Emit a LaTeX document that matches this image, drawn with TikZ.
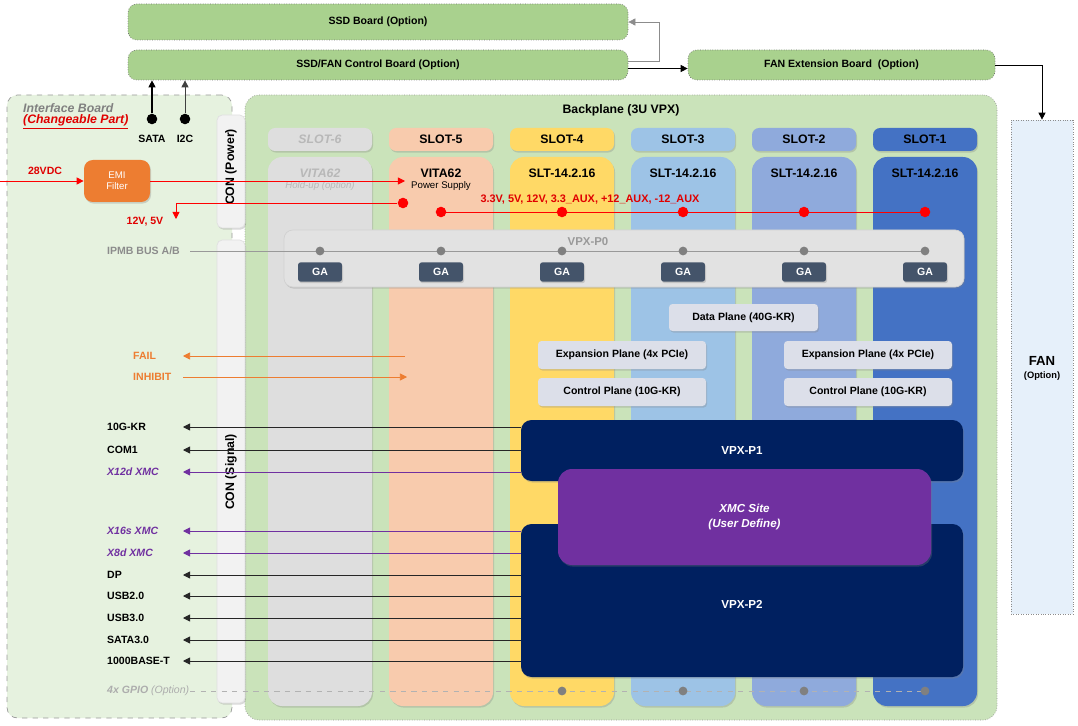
\documentclass[tikz,border=0pt]{standalone}
\usepackage{fontspec}
\setmainfont{Liberation Sans}
\usetikzlibrary{arrows.meta,fit,shadows,positioning}

\definecolor{brdgreen}{HTML}{A9D18E}
\definecolor{bpgreen}{HTML}{CAE3BA}
\definecolor{ifgreen}{HTML}{E6F2DF}
\definecolor{congray}{HTML}{F2F2F2}
\definecolor{fanblue}{HTML}{E6F0FA}
\definecolor{slotsix}{HTML}{DEDEDE}
\definecolor{slotfive}{HTML}{F8CBAD}
\definecolor{slotfour}{HTML}{FFD966}
\definecolor{slotthree}{HTML}{9DC3E6}
\definecolor{slottwo}{HTML}{8FAADC}
\definecolor{slotone}{HTML}{4472C4}
\definecolor{navy}{HTML}{002060}
\definecolor{xmcpurple}{HTML}{7030A0}
\definecolor{planegray}{HTML}{DCDFE9}
\definecolor{pzgray}{HTML}{E2E2E2}
\definecolor{gablue}{HTML}{44546A}
\definecolor{emiorange}{HTML}{ED7D31}
\definecolor{pwrred}{HTML}{E00000}

\tikzset{
  txt/.style={font=\fontsize{6}{7}\selectfont\bfseries},
  big/.style={font=\fontsize{7}{8}\selectfont\bfseries},
  shd/.style={drop shadow={shadow xshift=0.6pt,shadow yshift=-0.9pt,opacity=0.3}},
  board/.style={fill=brdgreen, draw=black!55, densely dotted, rounded corners=5pt, inner sep=0pt},
  hdr/.style={rounded corners=4pt, inner sep=0pt, shd},
  hdrtxt/.style={big},
  hdrsix/.style={font=\fontsize{7}{8}\selectfont\bfseries\itshape, text=black!28},
  slotbody/.style={rounded corners=8pt, inner sep=0pt, shd},
  plane/.style={fill=planegray, rounded corners=2pt, inner sep=0pt, shd},
  navybox/.style={fill=navy, rounded corners=6pt, inner sep=0pt, shd},
  navytxt/.style={font=\fontsize{6.6}{8}\selectfont\bfseries, text=white},
  ga/.style={txt, text=white, fill=gablue, rounded corners=1.5pt, minimum width=25pt, minimum height=11pt, inner sep=0pt, shd},
  rdot/.style={circle, fill=red, inner sep=0pt, minimum size=6pt},
  gdot/.style={circle, fill=black!50, inner sep=0pt, minimum size=5pt},
  bdot/.style={circle, fill=black, inner sep=0pt, minimum size=6pt},
  arr/.style={-{Triangle[length=4pt,width=4pt]}},
  pwr/.style={arr, red, line width=0.5pt},
  warn/.style={arr, emiorange, line width=0.4pt},
  sigk/.style={txt},
  sigx/.style={font=\fontsize{6}{7}\selectfont\bfseries\itshape, text=xmcpurple},
  lnk/.style={arr, black!85, line width=0.5pt},
  lnx/.style={arr, xmcpurple, line width=0.5pt},
}

\begin{document}
\begin{tikzpicture}[x=0.02cm, y=-0.02cm]
\useasboundingbox (0,0) rectangle (1078,726);

% option boards
\node[board, fit={(128,4) (628,40)}, label={[txt]center:SSD Board (Option)}] (ssd) {};
\node[board, fit={(128,50) (628,80)}, label={[txt]center:SSD/FAN Control Board (Option)}] (ctrl) {};
\node[board, fit={(688,50) (995,80)}, label={[txt]center:FAN Extension Board\ \ (Option)}] (fanext) {};
\node[fill=fanblue, draw=black!45, densely dotted, inner sep=0pt, fit={(1011,120) (1073,614)}] (fan) {};
\node[font=\fontsize{7.5}{8}\selectfont\bfseries] (fantxt) at (1042,361) {FAN};
\node[font=\fontsize{5.3}{6}\selectfont\bfseries, below=-3.5pt of fantxt] (fanopt) {(Option)};

\draw[black!45, arr] ([yshift=2pt]ctrl.east) -- ++(31,0) |- (ssd.east);
\draw[black, arr, line width=0.5pt] ([yshift=-2pt]ctrl.east) -- ([yshift=-2pt]fanext.west);
\draw[black, arr, line width=0.5pt] (fanext.east) -| (fan.north);

% interface board
\node[fill=ifgreen, draw=black!40, dashed, rounded corners=6pt, inner sep=0pt, fit={(7,95) (232,718)}] (iface) {};
\node[big, text=black!50, anchor=west] (ifname) at (17,108) {\itshape Interface Board};
\node[big, text=pwrred, anchor=west] (ifpart) at (17,122) {\itshape\underline{(Changeable Part)}};

% backplane
\node[fill=bpgreen, draw=black!40, densely dotted, rounded corners=8pt, inner sep=0pt, fit={(245,95) (997,720)}] (bp) {};
\node[big] (bptitle) at (621,110) {Backplane (3U VPX)};

\node[fill=congray, draw=black!12, rounded corners=3pt, inner sep=0pt, shd, fit={(217,115) (245,228)}] (conpwr) {};
\node[big, rotate=90] (conpwrtxt) at (231,167) {CON (Power)};
\node[fill=congray, draw=black!12, rounded corners=3pt, inner sep=0pt, shd, fit={(217,240) (245,703)}] (consig) {};
\node[big, rotate=90] (consigtxt) at (231,472) {CON (Signal)};

% slots
\foreach \n/\x/\col/\st in {6/268/slotsix/hdrsix, 5/389/slotfive/hdrtxt, 4/510/slotfour/hdrtxt,
                            3/631/slotthree/hdrtxt, 2/752/slottwo/hdrtxt, 1/873/slotone/hdrtxt}{
  \node[hdr, fill=\col, fit={(\x,128) (\x+104,151)}, label={[\st]center:SLOT-\n}] (hdr\n) {};
  \node[slotbody, fill=\col, fit={(\x,157) (\x+104,706)}] (slot\n) {};
}
\node[font=\fontsize{7}{8}\selectfont\bfseries\itshape, text=black!28] (vita6) at (320,173) {VITA62};
\node[font=\fontsize{5.5}{6}\selectfont\itshape, text=black!28] (hold6) at (320,186) {Hold-up (option)};
\node[big] (vita5) at (441,173) {VITA62};
\node[font=\fontsize{5.5}{6}\selectfont] (psu5) at (441,186) {Power Supply};
\foreach \n/\x in {4/562, 3/683, 2/804, 1/925}
  \node[big] (slt\n) at (\x,173) {SLT-14.2.16};

% power path
\node[fill=emiorange, rounded corners=5pt, inner sep=0pt, shd, fit={(84,160) (150,202)},
      label={[text=white, align=center, font=\fontsize{5.5}{6.5}\selectfont]center:EMI\\Filter}] (emi) {};
\coordinate (vdcin) at (0,181);
\coordinate (vitain) at (405,181);
\draw[pwr] (vdcin) -- (emi.west);
\node[txt, text=pwrred] (vdc) at (45,171) {28VDC};
\draw[pwr] (emi.east) -- (vitain);

\node[rdot] (pwout) at (403,203) {};
\coordinate (pwdown) at (176,219);
\draw[pwr] (pwout) -| (pwdown);
\node[txt, text=pwrred] (lowv) at (145,222) {12V, 5V};

\foreach \n/\x in {5/441, 4/562, 3/683, 2/804, 1/925}
  \coordinate (rail\n) at (\x,212);
\draw[red, line width=0.5pt] (rail5) -- (rail1);
\foreach \n in {5,4,3,2,1}
  \node[rdot] (rdot\n) at (rail\n) {};
\node[font=\fontsize{6.2}{7}\selectfont\bfseries, text=pwrred] (railtxt) at (590,200)
  {3.3V, 5V, 12V, 3.3\_AUX, +12\_AUX, -12\_AUX};

% VPX-P0
\node[fill=pzgray, draw=black!18, rounded corners=5pt, inner sep=0pt, shd, fit={(284,230) (964,287)}] (p0) {};
\node[font=\fontsize{6.5}{7}\selectfont\bfseries, text=black!40] (p0txt) at (588,242) {VPX-P0};
\node[txt, text=black!45, anchor=west] (ipmb) at (101,251) {IPMB BUS A/B};
\coordinate (ipmbend) at (190,251);
\foreach \n/\x in {6/320, 5/441, 4/562, 3/683, 2/804, 1/925}
  \coordinate (bus\n) at (\x,251);
\draw[black!40, line width=0.5pt] (ipmbend) -- (bus1);
\foreach \n/\x in {6/320, 5/441, 4/562, 3/683, 2/804, 1/925}{
  \node[gdot] (bdot\n) at (bus\n) {};
  \node[ga] (ga\n) at (\x,272) {GA};
}

% planes
\node[plane, fit={(669,304) (818,331)}, label={[txt]center:Data Plane (40G-KR)}] (data) {};
\node[plane, fit={(538,341) (706,369)}, label={[txt]center:Expansion Plane (4x PCIe)}] (expl) {};
\node[plane, fit={(784,341) (952,369)}, label={[txt]center:Expansion Plane (4x PCIe)}] (expr) {};
\node[plane, fit={(538,378) (706,406)}, label={[txt]center:Control Plane (10G-KR)}] (ctll) {};
\node[plane, fit={(784,378) (952,406)}, label={[txt]center:Control Plane (10G-KR)}] (ctlr) {};

% P1 / P2 / XMC
\node[navybox, fit={(521,420) (963,481)}, label={[navytxt]center:VPX-P1}] (p1) {};
\node[navybox, fit={(521,524) (963,677)}, label={[navytxt, yshift=-2pt]center:VPX-P2}] (p2) {};
\node[fill=xmcpurple, rounded corners=8pt, inner sep=0pt, shd, fit={(558,469) (931,565)},
      label={[text=white, align=center, font=\fontsize{6.6}{8}\selectfont\bfseries\itshape]center:XMC Site\\(User Define)}] (xmc) {};

% FAIL / INHIBIT
\node[txt, text=emiorange, anchor=west] (fail) at (127,356) {FAIL};
\node[txt, text=emiorange, anchor=west] (inhibit) at (127,377) {INHIBIT};
\coordinate (failsrc) at (405,356);
\coordinate (failtip) at (183,356);
\coordinate (inhsrc) at (183,377);
\coordinate (inhtip) at (407,377);
\draw[warn] (failsrc) -- (failtip);
\draw[warn] (inhsrc) -- (inhtip);

% signal lines
\foreach \y/\txt/\st/\ln/\src in {427/10G-KR/sigk/lnk/p1, 450/COM1/sigk/lnk/p1, 472/X12d XMC/sigx/lnx/p1,
    531/X16s XMC/sigx/lnx/p2, 553/X8d XMC/sigx/lnx/p2, 575/DP/sigk/lnk/p2, 596/USB2.0/sigk/lnk/p2,
    618/USB3.0/sigk/lnk/p2, 640/SATA3.0/sigk/lnk/p2, 661/1000BASE-T/sigk/lnk/p2}{
  \node[\st, anchor=west] (lab\y) at (101,\y) {\txt};
  \coordinate (tip\y) at (183,\y);
  \draw[\ln] (\src.west |- tip\y) -- (tip\y);
}

% GPIO
\node[font=\fontsize{6}{7}\selectfont\itshape, text=black!32, anchor=west] (gpio) at (101,691) {\textbf{4x GPIO} (Option)};
\coordinate (gpioend) at (190,691);
\foreach \n/\x in {4/562, 3/683, 2/804, 1/925}
  \coordinate (gp\n) at (\x,691);
\draw[black!30, dashed, line width=0.4pt] (gpioend) -- (gp1);
\foreach \n in {4,3,2,1}
  \node[gdot] (gdot\n) at (gp\n) {};

% SATA / I2C to control board
\node[bdot] (sata) at (152,119) {};
\node[bdot] (itwoc) at (185,119) {};
\node[txt] (satalbl) at (152,139) {SATA};
\node[txt] (itwoclbl) at (185,139) {I2C};
\draw[arr, black, line width=0.7pt] (sata) -- (sata |- ctrl.south);
\draw[arr, black!75, line width=0.5pt] (itwoc) -- (itwoc |- ctrl.south);
\end{tikzpicture}
\end{document}
